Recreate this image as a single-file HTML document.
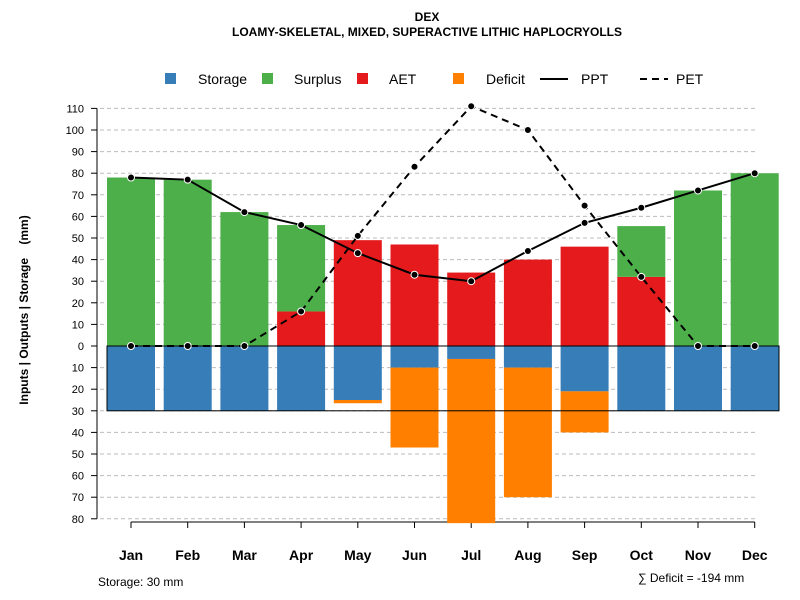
<!DOCTYPE html>
<html><head><meta charset="utf-8"><style>
body{margin:0;background:#fff;}
svg{font-family:"Liberation Sans",sans-serif;display:block;}
</style></head><body>
<svg id="c" width="800" height="600" viewBox="0 0 800 600">
<text x="427" y="21" text-anchor="middle" font-size="12" font-weight="bold">DEX</text>
<text x="427" y="36" text-anchor="middle" font-size="12" font-weight="bold">LOAMY-SKELETAL, MIXED, SUPERACTIVE LITHIC HAPLOCRYOLLS</text>
<g id="legend">
<rect x="165" y="73" width="11" height="11" fill="#377eb8"/>
<text x="198" y="84" font-size="14">Storage</text>
<rect x="262" y="73" width="11" height="11" fill="#4daf4a"/>
<text x="294" y="84" font-size="14">Surplus</text>
<rect x="357" y="73" width="11" height="11" fill="#e41a1c"/>
<text x="389" y="84" font-size="14">AET</text>
<rect x="453" y="73" width="11" height="11" fill="#ff7f00"/>
<text x="486" y="84" font-size="14">Deficit</text>
<line x1="540" y1="79" x2="568" y2="79" stroke="#000" stroke-width="2"/>
<text x="581" y="84" font-size="14">PPT</text>
<line x1="640" y1="79" x2="668" y2="79" stroke="#000" stroke-width="2" stroke-dasharray="7,5"/>
<text x="676" y="84" font-size="14">PET</text>
</g>
<text transform="translate(28,310) rotate(-90)" text-anchor="middle" font-size="12" font-weight="bold" style="white-space:pre">Inputs | Outputs | Storage    (mm)</text>
<text x="98" y="586" font-size="12">Storage: 30 mm</text>
<text x="638" y="582" font-size="12">∑ Deficit = -194 mm</text>
</svg>
<script>
const months=["Jan","Feb","Mar","Apr","May","Jun","Jul","Aug","Sep","Oct","Nov","Dec"];
const ppt=[78,77,62,56,43,33,30,44,57,64,72,80];
const pet=[0,0,0,16,51,83,111,100,65,32,0,0];
const aet=[0,0,0,16,49,47,34,40,46,32,0,0];
const surplus=[78,77,62,40,0,0,0,0,0,23.5,72,80];
const storage=[30,30,30,30,25,10,6,10,21,30,30,30];
const deficit=[0,0,0,0,1.5,37,76,60,19,0,0,0];
const posTicks=[0,10,20,30,40,50,60,70,80,90,100,110];
const negTicks=[10,20,30,40,50,60,70,80];
const svg=document.getElementById('c');const NS="http://www.w3.org/2000/svg";
const y0=346,k=2.16;
const Y=v=>y0-v*k;
const X=i=>131+i*56.7;
const bw=48;
function mk(t,a,p){const e=document.createElementNS(NS,t);for(const q in a)e.setAttribute(q,a[q]);(p||svg).appendChild(e);return e;}
const g=mk('g',{});


posTicks.concat(negTicks.map(v=>-v)).forEach(v=>{
 if(v===0)return;
 const l=mk('line',{x1:100,x2:755,y1:Y(v),y2:Y(v),stroke:'#bbb','stroke-dasharray':'4,3'},g);
 
 
});
const ax=mk('line',{x1:97,x2:97,y1:Y(110),y2:Y(-80),stroke:'#000'},g);


function tick(v,lab){
 const t=mk('line',{x1:91,x2:97,y1:Y(v),y2:Y(v),stroke:'#000'},g);
 
 
 const tx=mk('text',{x:84,y:Y(v)+4,'text-anchor':'end','font-size':11},g);tx.textContent=lab;
 
 
}
posTicks.forEach(v=>tick(v,v));
negTicks.forEach(v=>tick(-v,v));
const xa=mk('line',{x1:X(0),x2:X(11),y1:522,y2:522,stroke:'#000'},g);


months.forEach((m,i)=>{
 const t=mk('line',{x1:X(i),x2:X(i),y1:522,y2:528,stroke:'#000'},g);
 
 
 const tx=mk('text',{x:X(i),y:560,'text-anchor':'middle','font-size':14,'font-weight':'bold'},g);tx.textContent=m;
 
 
});
function bar(i,a,b,c,n){
 if(b-a<=0)return;
 const r=mk('rect',{x:X(i)-bw/2,y:Y(b),width:bw,height:(b-a)*k,fill:c},g);
 
 
}
months.forEach((m,i)=>{
 bar(i,-storage[i],0,'#377eb8','storage-bar');
 bar(i,-(storage[i]+deficit[i]),-storage[i],'#ff7f00','deficit-bar');
 bar(i,0,aet[i],'#e41a1c','aet-bar');
 bar(i,aet[i],aet[i]+surplus[i],'#4daf4a','surplus-bar');
});
const box=mk('rect',{x:107,y:Y(0),width:672,height:30*k,fill:'none',stroke:'#000','stroke-width':1},g);


function line(arr,dash,n){
 const p=mk('polyline',{points:arr.map((v,i)=>X(i)+','+Y(v)).join(' '),fill:'none',stroke:'#000','stroke-width':2,'stroke-dasharray':dash},g);
 
 
 arr.forEach((v,i)=>{
  const c=mk('circle',{cx:X(i),cy:Y(v),r:3.5,fill:'#000',stroke:'#fff','stroke-width':1},g);
  
  
 });
}
line(pet,'7,5','pet-line');
line(ppt,'none','ppt-line');
</script>
</body></html>
